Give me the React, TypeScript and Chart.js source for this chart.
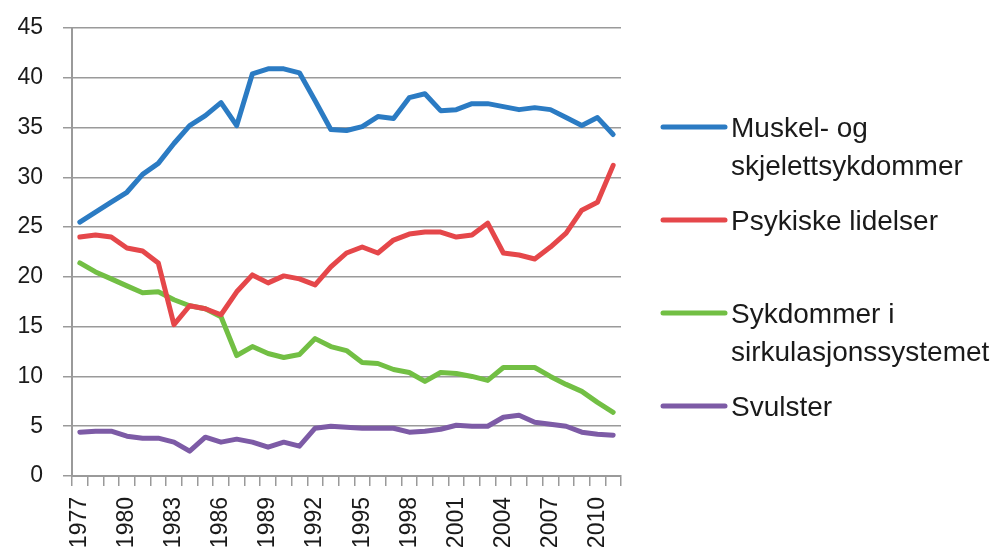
import React, { useEffect, useRef } from "react";
import { Chart, registerables } from "chart.js";

Chart.register(...registerables);

const years = [
  "1977", "1978", "1979", "1980", "1981", "1982", "1983", "1984", "1985", "1986",
  "1987", "1988", "1989", "1990", "1991", "1992", "1993", "1994", "1995", "1996",
  "1997", "1998", "1999", "2000", "2001", "2002", "2003", "2004", "2005", "2006",
  "2007", "2008", "2009", "2010", "2011",
];

const muskel = [
  25.5, 26.5, 27.5, 28.5, 30.3, 31.4, 33.4, 35.2, 36.2, 37.5,
  35.2, 40.4, 40.9, 40.9, 40.5, 37.7, 34.8, 34.7, 35.1, 36.1,
  35.9, 38.0, 38.4, 36.7, 36.8, 37.4, 37.4, 37.1, 36.8, 37.0,
  36.8, 36.0, 35.2, 36.0, 34.3,
];

const psykiske = [
  24.0, 24.2, 24.0, 22.9, 22.6, 21.4, 15.2, 17.1, 16.8, 16.2,
  18.5, 20.2, 19.4, 20.1, 19.8, 19.2, 21.0, 22.4, 23.0, 22.4,
  23.7, 24.3, 24.5, 24.5, 24.0, 24.2, 25.4, 22.4, 22.2, 21.8,
  23.0, 24.4, 26.7, 27.5, 31.2,
];

const sirkulasjon = [
  21.4, 20.5, 19.8, 19.1, 18.4, 18.5, 17.7, 17.1, 16.8, 16.0,
  12.1, 13.0, 12.3, 11.9, 12.2, 13.8, 13.0, 12.6, 11.4, 11.3,
  10.7, 10.4, 9.5, 10.4, 10.3, 10.0, 9.6, 10.9, 10.9, 10.9,
  10.0, 9.2, 8.5, 7.4, 6.4,
];

const svulster = [
  4.4, 4.5, 4.5, 4.0, 3.8, 3.8, 3.4, 2.5, 3.9, 3.4,
  3.7, 3.4, 2.9, 3.4, 3.0, 4.8, 5.0, 4.9, 4.8, 4.8,
  4.8, 4.4, 4.5, 4.7, 5.1, 5.0, 5.0, 5.9, 6.1, 5.4,
  5.2, 5.0, 4.4, 4.2, 4.1,
];

const seriesNames = [
  ["Muskel- og", "skjelettsykdommer"],
  ["Psykiske lidelser"],
  ["Sykdommer i", "sirkulasjonssystemet"],
  ["Svulster"],
];

const seriesColors = ["#2b7bc3", "#e5474a", "#72bf44", "#7d5ba6"];
const seriesValues = [muskel, psykiske, sirkulasjon, svulster];

const FONT = "'Liberation Sans', Arial, sans-serif";
const TEXT_COLOR = "#1a1a1a";
const GRID_COLOR = "#9a9a9a";

const sideLegend = {
  id: "sideLegend",
  afterDraw(chart: any) {
    const ctx = chart.ctx;
    const area = chart.chartArea;
    const lineX0 = area.right + 42;
    const lineX1 = area.right + 104;
    const textX = area.right + 110;
    const firstY = 127;
    const step = 93;
    const lineGap = 38;
    const fontSize = 28;
    ctx.save();
    ctx.font = `${fontSize}px ${FONT}`;
    ctx.fillStyle = TEXT_COLOR;
    ctx.textAlign = "left";
    ctx.textBaseline = "alphabetic";
    chart.data.datasets.forEach((ds: any, i: number) => {
      const y = firstY + i * step;
      ctx.strokeStyle = ds.borderColor;
      ctx.lineWidth = 5;
      ctx.lineCap = "round";
      ctx.beginPath();
      ctx.moveTo(lineX0, y);
      ctx.lineTo(lineX1, y);
      ctx.stroke();
      const lines: string[] = ds.legendLines;
      lines.forEach((t, k) => {
        ctx.fillText(t, textX, y + k * lineGap + fontSize * 0.358);
      });
    });
    ctx.restore();
  },
};

export default function App() {
  const canvasRef = useRef<HTMLCanvasElement | null>(null);

  useEffect(() => {
    const canvas = canvasRef.current;
    if (!canvas) return;
    const chart = new Chart(canvas, {
      type: "line",
      data: {
        labels: years,
        datasets: seriesValues.map((vals, i) => ({
          label: seriesNames[i].join(" "),
          legendLines: seriesNames[i],
          data: vals,
          borderColor: seriesColors[i],
          backgroundColor: seriesColors[i],
          borderWidth: 5,
          pointRadius: 0,
          tension: 0,
          borderJoinStyle: "round",
          borderCapStyle: "round",
        })) as any,
      },
      options: {
        responsive: false,
        animation: false,
        events: [],
        layout: { padding: { top: 28, right: 373, left: 0, bottom: 0 } },
        plugins: {
          legend: { display: false },
          tooltip: { enabled: false },
          title: { display: false },
        },
        scales: {
          x: {
            type: "category",
            offset: true,
            afterFit: (s: any) => {
              s.height = 80;
              s.paddingTop = 0;
              s.paddingBottom = 0;
            },
            grid: {
              offset: true,
              drawOnChartArea: false,
              drawTicks: true,
              tickLength: 10,
              color: GRID_COLOR,
              lineWidth: 1.5,
            },
            border: { display: true, color: GRID_COLOR, width: 2 },
            ticks: {
              autoSkip: false,
              maxRotation: 90,
              minRotation: 90,
              padding: 11,
              color: TEXT_COLOR,
              font: { family: FONT, size: 23 },
              callback: (_v: any, i: number) => (i % 3 === 0 ? years[i] : ""),
            },
          },
          y: {
            min: 0,
            max: 45,
            afterFit: (s: any) => {
              s.width = 72;
              s.paddingTop = 0;
              s.paddingBottom = 0;
            },
            grid: {
              color: GRID_COLOR,
              lineWidth: 1.5,
              drawTicks: true,
              tickLength: 9,
            },
            border: { display: true, color: GRID_COLOR, width: 2 },
            ticks: {
              stepSize: 5,
              padding: 20,
              color: TEXT_COLOR,
              font: { family: FONT, size: 23 },
            },
          },
        },
      },
      plugins: [sideLegend],
    });
    return () => chart.destroy();
  }, []);

  return (
    <div style={{ position: "fixed", left: 0, top: 0, width: 994, height: 556, background: "#fff" }}>
      <canvas ref={canvasRef} width={994} height={556} style={{ display: "block" }} />
    </div>
  );
}
